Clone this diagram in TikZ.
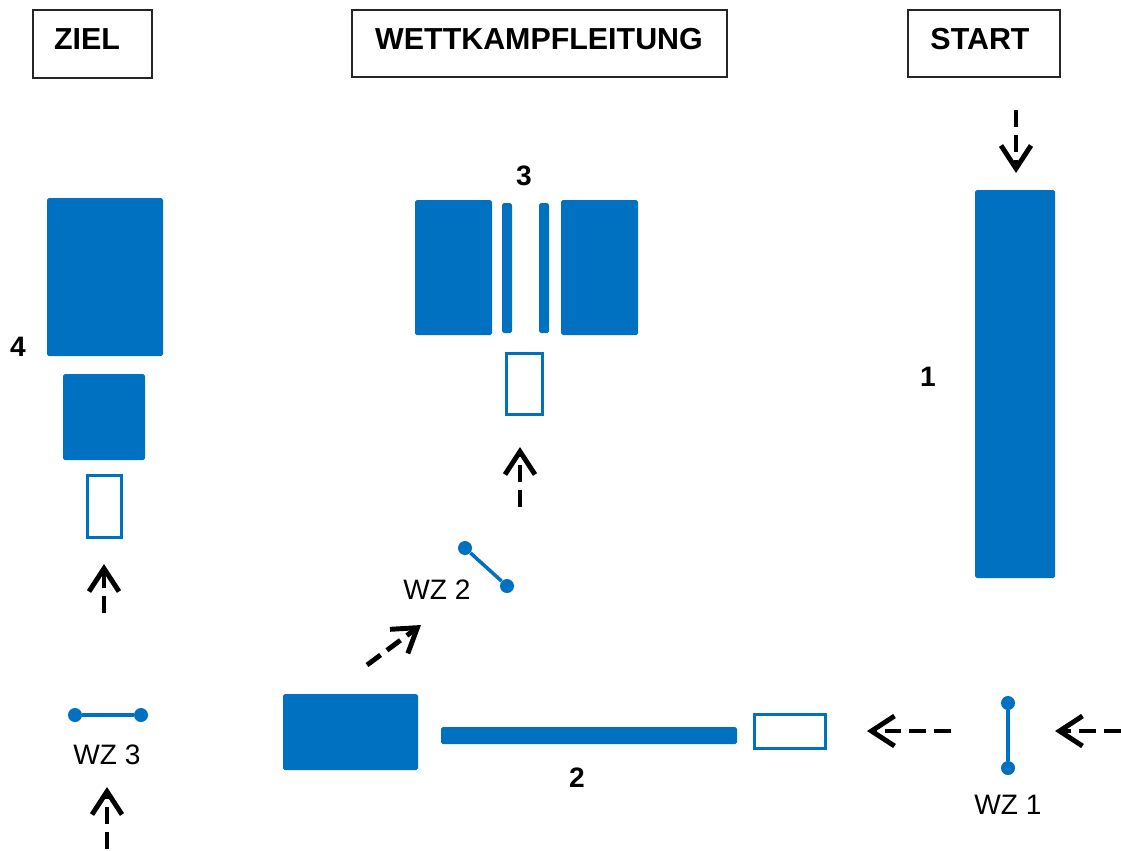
\documentclass[tikz,border=0pt]{standalone}
\usepackage{fontspec}
\setmainfont{Liberation Sans}
\usetikzlibrary{arrows.meta}
\definecolor{bl}{RGB}{0,112,192}
\tikzset{
  x=0.02cm, y=-0.02cm,
  blk/.style 2 args={draw=none, fill=bl, rounded corners=1pt, inner sep=0pt, outer sep=0pt, minimum width=#1*0.02cm, minimum height=#2*0.02cm},
  obox/.style 2 args={draw=bl, line width=2pt, fill=none, inner sep=0pt, outer sep=0pt, minimum width=#1*0.02cm, minimum height=#2*0.02cm},
  hbox/.style 2 args={draw=black!85, line width=1pt, inner sep=0pt, minimum width=#1*0.02cm, minimum height=#2*0.02cm},
  htxt/.style={inner sep=0pt, font=\fontsize{17.3}{20}\selectfont\bfseries},
  num/.style={inner sep=0pt, font=\fontsize{16}{19}\selectfont\bfseries},
  wz/.style={inner sep=0pt, font=\fontsize{16}{19}\selectfont},
  dot/.style={circle, fill=bl, inner sep=0pt, minimum size=0.28cm},
  wzline/.style={draw=bl, line width=2pt},
  arr/.style={-{Straight Barb[length=4.6mm,width=6mm]}, line width=2.8pt, dash pattern=on 9.6pt off 4.5pt},
}
\begin{document}
\begin{tikzpicture}
\useasboundingbox (0,0) rectangle (1121,850);
% header boxes
\node[hbox={119}{68}] (zielbox) at (92.5,44) {};
\node[htxt] (ziel) at (87,39.5) {ZIEL};
\node[hbox={375}{67}] (wkbox) at (539.5,43.5) {};
\node[htxt] (wk) at (539,39.5) {WETTKAMPFLEITUNG};
\node[hbox={152}{67}] (startbox) at (984,43.5) {};
\node[htxt] (start) at (980,39.5) {START};
% station 1
\node[blk={80}{388}] (r1) at (1015,384) {};
\node[num] (l1) at (928,377) {1};
\coordinate (a1s) at (1016,110);
\coordinate (a1e) at (1016,173);
\draw[arr] (a1s) -- (a1e);
% station 3
\node[blk={77}{135}] (lb3) at (453.5,267.5) {};
\node[blk={10}{130}] (b31) at (507,268) {};
\node[blk={10}{130}] (b32) at (544,268) {};
\node[blk={77}{135}] (rb3) at (599.5,267.5) {};
\node[obox={36}{61}] (o3) at (524.5,384) {};
\node[num] (l3) at (524,176) {3};
\coordinate (a3s) at (520,507);
\coordinate (a3e) at (520,447);
\draw[arr] (a3s) -- (a3e);
% station 4
\node[blk={116}{158}] (big4) at (105,277) {};
\node[blk={82}{86}] (med4) at (104,417) {};
\node[obox={34}{62}] (o4) at (104.5,506.5) {};
\node[num] (l4) at (18,347) {4};
\coordinate (a4s) at (104,613);
\coordinate (a4e) at (104,564);
\draw[arr] (a4s) -- (a4e);
% WZ 3
\node[dot] (w3a) at (75,715) {};
\node[dot] (w3b) at (141,715) {};
\draw[wzline] (w3a) -- (w3b);
\node[wz] (wz3) at (107,755) {WZ 3};
\coordinate (a5s) at (107,849);
\coordinate (a5e) at (107,787);
\draw[arr] (a5s) -- (a5e);
% station 2
\node[blk={135}{76}] (b2) at (350.5,732) {};
\node[blk={296}{17}] (bar2) at (589,735.5) {};
\node[obox={71}{34}] (o2) at (790,731.5) {};
\node[num] (l2) at (577,778) {2};
% WZ 1
\node[dot] (w1a) at (1008,703) {};
\node[dot] (w1b) at (1008,768) {};
\draw[wzline] (w1a) -- (w1b);
\node[wz] (wz1) at (1008,805) {WZ 1};
\coordinate (a6s) at (951,731);
\coordinate (a6e) at (867,731);
\draw[arr] (a6s) -- (a6e);
\coordinate (a7s) at (1121,731);
\coordinate (a7e) at (1055,731);
\draw[arr] (a7s) -- (a7e);
% WZ 2
\node[dot] (w2a) at (465,548) {};
\node[dot] (w2b) at (507,586) {};
\draw[wzline] (w2a) -- (w2b);
\node[wz] (wz2) at (437,590) {WZ 2};
\coordinate (a8s) at (367,665);
\coordinate (a8e) at (421,625);
\draw[arr] (a8s) -- (a8e);
\end{tikzpicture}
\end{document}
